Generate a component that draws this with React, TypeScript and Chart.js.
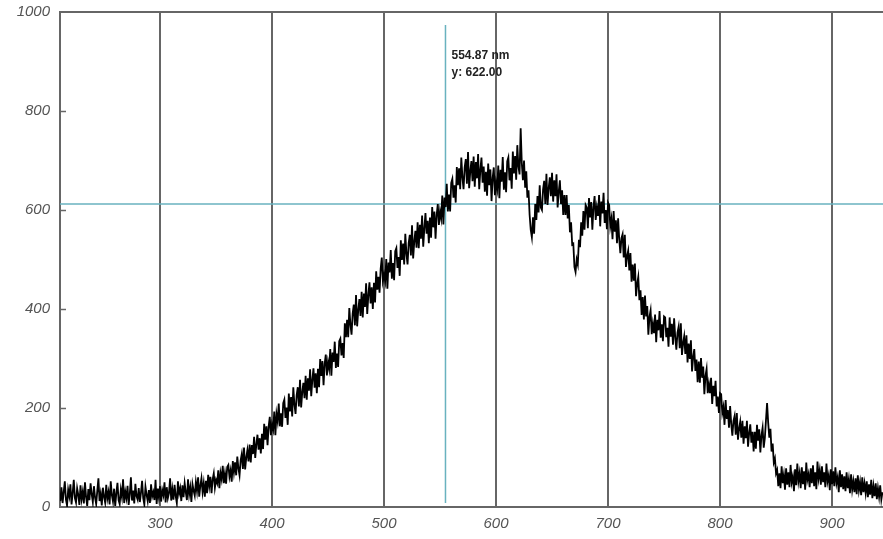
import React, { useEffect, useRef } from "react";
import { Chart, registerables } from "chart.js";

Chart.register(...registerables);

const wavelengths: number[] = [
  211, 212, 213, 214, 215, 216, 217, 218, 219, 220,
  221, 222, 223, 224, 225, 226, 227, 228, 229, 230,
  231, 232, 233, 234, 235, 236, 237, 238, 239, 240,
  241, 242, 243, 244, 245, 246, 247, 248, 249, 250,
  251, 252, 253, 254, 255, 256, 257, 258, 259, 260,
  261, 262, 263, 264, 265, 266, 267, 268, 269, 270,
  271, 272, 273, 274, 275, 276, 277, 278, 279, 280,
  281, 282, 283, 284, 285, 286, 287, 288, 289, 290,
  291, 292, 293, 294, 295, 296, 297, 298, 299, 300,
  301, 302, 303, 304, 305, 306, 307, 308, 309, 310,
  311, 312, 313, 314, 315, 316, 317, 318, 319, 320,
  321, 322, 323, 324, 325, 326, 327, 328, 329, 330,
  331, 332, 333, 334, 335, 336, 337, 338, 339, 340,
  341, 342, 343, 344, 345, 346, 347, 348, 349, 350,
  351, 352, 353, 354, 355, 356, 357, 358, 359, 360,
  361, 362, 363, 364, 365, 366, 367, 368, 369, 370,
  371, 372, 373, 374, 375, 376, 377, 378, 379, 380,
  381, 382, 383, 384, 385, 386, 387, 388, 389, 390,
  391, 392, 393, 394, 395, 396, 397, 398, 399, 400,
  401, 402, 403, 404, 405, 406, 407, 408, 409, 410,
  411, 412, 413, 414, 415, 416, 417, 418, 419, 420,
  421, 422, 423, 424, 425, 426, 427, 428, 429, 430,
  431, 432, 433, 434, 435, 436, 437, 438, 439, 440,
  441, 442, 443, 444, 445, 446, 447, 448, 449, 450,
  451, 452, 453, 454, 455, 456, 457, 458, 459, 460,
  461, 462, 463, 464, 465, 466, 467, 468, 469, 470,
  471, 472, 473, 474, 475, 476, 477, 478, 479, 480,
  481, 482, 483, 484, 485, 486, 487, 488, 489, 490,
  491, 492, 493, 494, 495, 496, 497, 498, 499, 500,
  501, 502, 503, 504, 505, 506, 507, 508, 509, 510,
  511, 512, 513, 514, 515, 516, 517, 518, 519, 520,
  521, 522, 523, 524, 525, 526, 527, 528, 529, 530,
  531, 532, 533, 534, 535, 536, 537, 538, 539, 540,
  541, 542, 543, 544, 545, 546, 547, 548, 549, 550,
  551, 552, 553, 554, 555, 556, 557, 558, 559, 560,
  561, 562, 563, 564, 565, 566, 567, 568, 569, 570,
  571, 572, 573, 574, 575, 576, 577, 578, 579, 580,
  581, 582, 583, 584, 585, 586, 587, 588, 589, 590,
  591, 592, 593, 594, 595, 596, 597, 598, 599, 600,
  601, 602, 603, 604, 605, 606, 607, 608, 609, 610,
  611, 612, 613, 614, 615, 616, 617, 618, 619, 620,
  621, 622, 623, 624, 625, 626, 627, 628, 629, 630,
  631, 632, 633, 634, 635, 636, 637, 638, 639, 640,
  641, 642, 643, 644, 645, 646, 647, 648, 649, 650,
  651, 652, 653, 654, 655, 656, 657, 658, 659, 660,
  661, 662, 663, 664, 665, 666, 667, 668, 669, 670,
  671, 672, 673, 674, 675, 676, 677, 678, 679, 680,
  681, 682, 683, 684, 685, 686, 687, 688, 689, 690,
  691, 692, 693, 694, 695, 696, 697, 698, 699, 700,
  701, 702, 703, 704, 705, 706, 707, 708, 709, 710,
  711, 712, 713, 714, 715, 716, 717, 718, 719, 720,
  721, 722, 723, 724, 725, 726, 727, 728, 729, 730,
  731, 732, 733, 734, 735, 736, 737, 738, 739, 740,
  741, 742, 743, 744, 745, 746, 747, 748, 749, 750,
  751, 752, 753, 754, 755, 756, 757, 758, 759, 760,
  761, 762, 763, 764, 765, 766, 767, 768, 769, 770,
  771, 772, 773, 774, 775, 776, 777, 778, 779, 780,
  781, 782, 783, 784, 785, 786, 787, 788, 789, 790,
  791, 792, 793, 794, 795, 796, 797, 798, 799, 800,
  801, 802, 803, 804, 805, 806, 807, 808, 809, 810,
  811, 812, 813, 814, 815, 816, 817, 818, 819, 820,
  821, 822, 823, 824, 825, 826, 827, 828, 829, 830,
  831, 832, 833, 834, 835, 836, 837, 838, 839, 840,
  841, 842, 843, 844, 845, 846, 847, 848, 849, 850,
  851, 852, 853, 854, 855, 856, 857, 858, 859, 860,
  861, 862, 863, 864, 865, 866, 867, 868, 869, 870,
  871, 872, 873, 874, 875, 876, 877, 878, 879, 880,
  881, 882, 883, 884, 885, 886, 887, 888, 889, 890,
  891, 892, 893, 894, 895, 896, 897, 898, 899, 900,
  901, 902, 903, 904, 905, 906, 907, 908, 909, 910,
  911, 912, 913, 914, 915, 916, 917, 918, 919, 920,
  921, 922, 923, 924, 925, 926, 927, 928, 929, 930,
  931, 932, 933, 934, 935, 936, 937, 938, 939, 940,
  941, 942, 943, 944, 945,
];

const intensity: number[] = [
  12, 40, 8, 30, 52, 15, 3, 35, 22, 46,
  5, 28, 55, 18, 9, 38, 25, 4, 44, 16,
  31, 7, 50, 20, 2, 36, 14, 48, 26, 10,
  42, 19, 6, 33, 58, 12, 27, 3, 39, 21,
  9, 45, 17, 30, 5, 52, 24, 11, 37, 2,
  28, 49, 14, 6, 35, 20, 56, 8, 31, 18,
  43, 4, 26, 60, 13, 33, 7, 47, 22, 15,
  38, 10, 29, 53, 18, 5, 41, 25, 12, 34,
  8, 46, 21, 30, 14, 55, 6, 37, 19, 42,
  11, 34, 24, 50, 9, 40, 18, 28, 58, 13,
  36, 15, 45, 22, 8, 52, 27, 38, 12, 44,
  20, 48, 30, 14, 56, 25, 40, 10, 46, 33,
  23, 50, 32, 60, 21, 43, 58, 30, 48, 21,
  53, 28, 65, 42, 61, 28, 56, 68, 39, 55,
  48, 74, 38, 69, 56, 83, 48, 68, 47, 81,
  85, 61, 74, 51, 93, 70, 90, 64, 102, 78,
  64, 94, 107, 77, 120, 76, 100, 115, 92, 126,
  90, 125, 107, 142, 99, 127, 146, 116, 139, 108,
  148, 117, 168, 136, 163, 125, 163, 182, 145, 167,
  156, 193, 145, 188, 173, 209, 163, 189, 162, 210,
  217, 180, 201, 166, 229, 193, 222, 183, 242, 207,
  188, 226, 242, 203, 257, 201, 232, 251, 220, 265,
  217, 260, 235, 278, 224, 257, 280, 241, 270, 230,
  279, 242, 299, 265, 295, 246, 289, 308, 266, 293,
  279, 319, 265, 312, 293, 334, 281, 310, 283, 335,
  340, 306, 331, 301, 371, 343, 378, 343, 402, 369,
  348, 391, 409, 367, 428, 365, 398, 420, 386, 435,
  383, 431, 404, 452, 390, 428, 454, 411, 444, 400,
  453, 413, 476, 439, 465, 433, 481, 504, 457, 470,
  456, 501, 441, 494, 474, 519, 461, 493, 458, 517,
  523, 483, 505, 467, 539, 499, 532, 490, 552, 512,
  490, 533, 550, 508, 569, 502, 536, 558, 524, 575,
  523, 570, 542, 589, 526, 563, 594, 552, 578, 533,
  585, 544, 606, 565, 597, 542, 590, 612, 570, 597,
  583, 629, 571, 625, 606, 653, 597, 631, 597, 655,
  663, 625, 650, 615, 687, 650, 684, 642, 706, 666,
  642, 686, 703, 653, 717, 644, 678, 699, 658, 708,
  647, 697, 664, 713, 642, 681, 706, 655, 688, 637,
  677, 629, 694, 650, 682, 618, 665, 686, 630, 656,
  642, 690, 624, 681, 657, 707, 641, 676, 636, 698,
  706, 660, 685, 643, 718, 674, 709, 661, 731, 688,
  672, 765, 695, 660, 700, 645, 678, 625, 640, 590,
  560, 545, 585, 552, 612, 580, 628, 595, 650, 605,
  600, 642, 659, 612, 673, 610, 644, 666, 628, 675,
  617, 660, 628, 672, 605, 637, 660, 612, 640, 590,
  630, 590, 630, 583, 610, 555, 575, 530, 532, 485,
  475, 500, 490, 540, 525, 575, 548, 598, 560, 610,
  605, 563, 624, 585, 616, 560, 606, 628, 580, 605,
  588, 630, 567, 617, 593, 635, 574, 600, 561, 615,
  610, 567, 582, 541, 598, 556, 579, 533, 583, 541,
  513, 543, 551, 504, 550, 485, 507, 518, 478, 513,
  455, 490, 457, 492, 426, 451, 465, 418, 438, 388,
  424, 379, 427, 385, 406, 348, 384, 397, 349, 370,
  351, 389, 333, 378, 357, 396, 342, 369, 335, 385,
  383, 343, 362, 324, 383, 344, 370, 328, 381, 343,
  318, 352, 364, 321, 371, 307, 331, 345, 309, 347,
  292, 330, 299, 337, 274, 303, 319, 275, 298, 252,
  294, 251, 301, 261, 284, 228, 265, 279, 230, 249,
  230, 261, 208, 245, 224, 255, 203, 223, 190, 230,
  228, 190, 202, 166, 216, 178, 196, 160, 204, 168,
  144, 174, 184, 146, 190, 136, 158, 172, 140, 174,
  128, 163, 139, 174, 122, 149, 167, 130, 152, 112,
  152, 118, 166, 134, 157, 110, 145, 160, 120, 139,
  175, 210, 170, 140, 158, 112, 128, 90, 98, 68,
  75, 42, 68, 38, 82, 48, 65, 35, 78, 45,
  70, 40, 85, 50, 62, 32, 76, 44, 88, 52,
  68, 38, 80, 46, 72, 35, 90, 55, 66, 40,
  78, 48, 84, 42, 70, 36, 92, 58, 74, 45,
  82, 50, 70, 40, 88, 52, 64, 34, 76, 46,
  72, 42, 80, 48, 60, 30, 74, 40, 66, 36,
  62, 32, 70, 38, 56, 28, 66, 35, 52, 30,
  58, 26, 64, 34, 50, 24, 60, 30, 48, 28,
  52, 20, 46, 25, 55, 18, 42, 22, 48, 16,
  38, 20, 44, 15, 30,
];

const xTicks: number[] = [300, 400, 500, 600, 700, 800, 900];
const yTicks: number[] = [0, 200, 400, 600, 800, 1000];
const cursorX = 554.87;
const cursorY = 612;
const cursorLabel: string[] = ["554.87 nm", "y: 622.00"];

const AXIS_COLOR = "#666666";
const CURSOR_COLOR = "#69b2bf";

const framePlugin = {
  id: "frame",
  beforeDatasetsDraw(chart: any) {
    const { ctx, chartArea, scales } = chart;
    const x = scales.x;
    const y = scales.y;
    ctx.save();
    ctx.strokeStyle = AXIS_COLOR;
    ctx.lineWidth = 2;
    ctx.beginPath();
    ctx.moveTo(chartArea.left, chartArea.top);
    ctx.lineTo(chartArea.right, chartArea.top);
    ctx.stroke();
    ctx.lineWidth = 1.5;
    for (const v of yTicks) {
      if (v === 0 || v === 1000) continue;
      const py = Math.round(y.getPixelForValue(v)) + 0.5;
      ctx.beginPath();
      ctx.moveTo(chartArea.left, py);
      ctx.lineTo(chartArea.left + 6, py);
      ctx.stroke();
    }
    ctx.strokeStyle = CURSOR_COLOR;
    ctx.lineWidth = 1.5;
    const cx = x.getPixelForValue(cursorX);
    ctx.beginPath();
    ctx.moveTo(cx, chartArea.top + 13);
    ctx.lineTo(cx, chartArea.bottom - 4);
    ctx.stroke();
    const cy = y.getPixelForValue(cursorY);
    ctx.beginPath();
    ctx.moveTo(chartArea.left, cy);
    ctx.lineTo(chartArea.right, cy);
    ctx.stroke();
    ctx.fillStyle = "#222222";
    ctx.font = "bold 12px 'Liberation Sans', Arial, sans-serif";
    ctx.textBaseline = "alphabetic";
    ctx.textAlign = "left";
    ctx.fillText(cursorLabel[0], cx + 6, chartArea.top + 47);
    ctx.fillText(cursorLabel[1], cx + 6, chartArea.top + 64);
    ctx.restore();
  },
};

export default function App() {
  const canvasRef = useRef<HTMLCanvasElement | null>(null);

  useEffect(() => {
    document.body.style.margin = "0";
    const canvas = canvasRef.current;
    if (!canvas) return;
    const points = wavelengths.map((w, i) => ({ x: w, y: intensity[i] }));
    const chart = new Chart(canvas, {
      type: "line",
      data: {
        datasets: [
          {
            data: points,
            borderColor: "#000000",
            borderWidth: 1.8,
            pointRadius: 0,
            tension: 0,
            fill: false,
          },
        ],
      },
      options: {
        animation: false,
        responsive: false,
        maintainAspectRatio: false,
        layout: { padding: { top: 12, right: 0, left: 0, bottom: 0 } },
        plugins: {
          legend: { display: false },
          tooltip: { enabled: false },
          title: { display: false },
        },
        scales: {
          x: {
            type: "linear",
            min: 210.7,
            max: 945.5,
            afterFit: (s: any) => {
              s.height = 32;
              s.paddingLeft = 0;
              s.paddingRight = 0;
            },
            afterBuildTicks: (s: any) => {
              s.ticks = xTicks.map((v) => ({ value: v }));
            },
            ticks: {
              includeBounds: false,
              color: "#555555",
              padding: 8,
              maxRotation: 0,
              callback: (v: any) => String(v),
              font: { family: "'Liberation Sans', Arial, sans-serif", size: 15, style: "italic" },
            },
            grid: {
              display: true,
              color: AXIS_COLOR,
              lineWidth: 2,
              drawTicks: false,
            },
            border: { display: true, color: AXIS_COLOR, width: 2 },
          },
          y: {
            type: "linear",
            min: 0,
            max: 1000,
            afterFit: (s: any) => {
              s.width = 60;
              s.paddingTop = 0;
              s.paddingBottom = 0;
            },
            afterBuildTicks: (s: any) => {
              s.ticks = yTicks.map((v) => ({ value: v }));
            },
            ticks: {
              color: "#555555",
              padding: 10,
              callback: (v: any) => String(v),
              font: { family: "'Liberation Sans', Arial, sans-serif", size: 15, style: "italic" },
            },
            grid: { display: false, drawTicks: false },
            border: { display: true, color: AXIS_COLOR, width: 2 },
          },
        },
      },
      plugins: [framePlugin],
    });
    return () => chart.destroy();
  }, []);

  return (
    <div style={{ width: 883, height: 539, background: "#ffffff" }}>
      <canvas ref={canvasRef} width={883} height={539} style={{ display: "block" }} />
    </div>
  );
}
